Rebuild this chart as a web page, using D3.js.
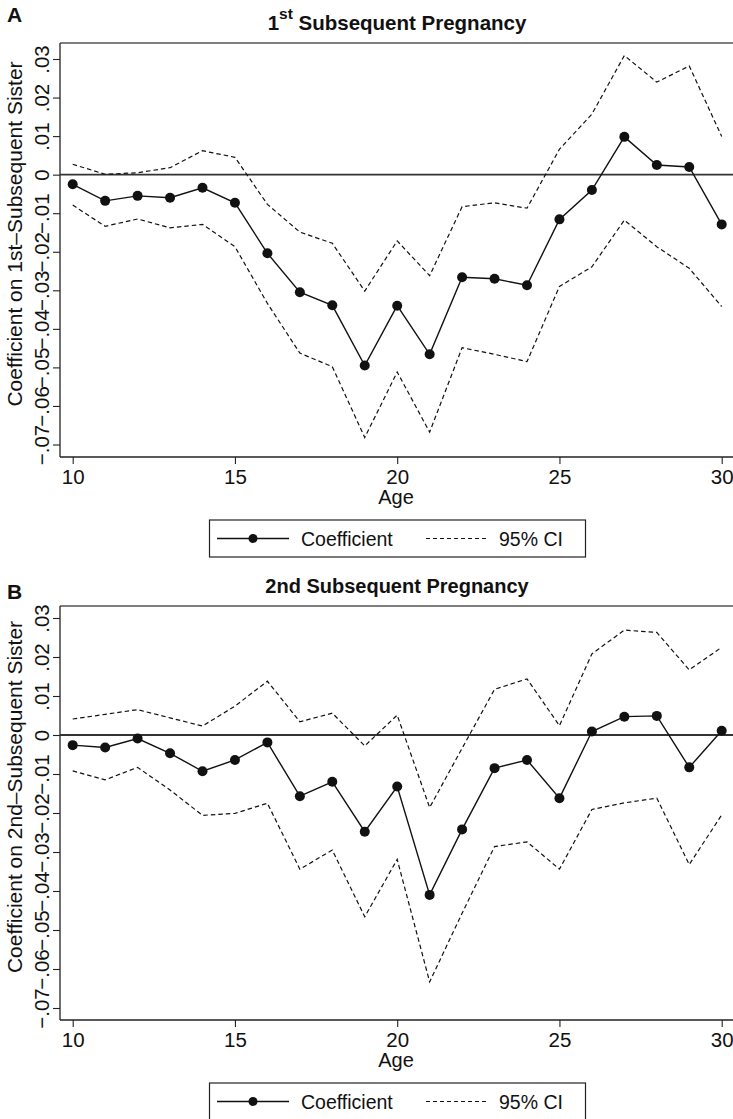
<!DOCTYPE html>
<html>
<head>
<meta charset="utf-8">
<script src="https://cdn.jsdelivr.net/npm/d3@7"></script>
<style>
  html, body { margin: 0; padding: 0; background: #fff; }
  svg { display: block; font-family: "Liberation Sans", Arial, sans-serif; }
</style>
</head>
<body>
<svg id="chart" width="733" height="1119"></svg>
<script>
// ---- Data ----
const ages = [10,11,12,13,14,15,16,17,18,19,20,21,22,23,24,25,26,27,28,29,30];

// Panel A: 1st subsequent pregnancy
const coefA  = [-0.0025,-0.0068,-0.0055,-0.0060,-0.0034,-0.0073,-0.0204,-0.0305,-0.0339,-0.0495,-0.0340,-0.0466,-0.0266,-0.0270,-0.0287,-0.0116,-0.0040,0.0098,0.0025,0.0020,-0.0129];
const upperA = [0.0027,0.0001,0.0005,0.0018,0.0062,0.0045,-0.0077,-0.0149,-0.0178,-0.0302,-0.0172,-0.0262,-0.0083,-0.0073,-0.0087,0.0066,0.0157,0.0309,0.0240,0.0282,0.0099];
const lowerA = [-0.0079,-0.0134,-0.0115,-0.0138,-0.0129,-0.0187,-0.0334,-0.0463,-0.0498,-0.0682,-0.0512,-0.0668,-0.0449,-0.0466,-0.0485,-0.0290,-0.0239,-0.0118,-0.0187,-0.0243,-0.0342];

// Panel B: 2nd subsequent pregnancy
const coefB  = [-0.0026,-0.0032,-0.0009,-0.0047,-0.0093,-0.0064,-0.0019,-0.0157,-0.0120,-0.0248,-0.0132,-0.0410,-0.0242,-0.0085,-0.0064,-0.0162,0.0009,0.0047,0.0049,-0.0083,0.0011];
const upperB = [0.0041,0.0053,0.0065,0.0044,0.0023,0.0074,0.0138,0.0034,0.0056,-0.0028,0.0051,-0.0186,-0.0034,0.0117,0.0144,0.0024,0.0208,0.0269,0.0263,0.0167,0.0225];
const lowerB = [-0.0092,-0.0115,-0.0083,-0.0141,-0.0206,-0.0201,-0.0175,-0.0344,-0.0295,-0.0466,-0.0319,-0.0633,-0.0457,-0.0286,-0.0274,-0.0344,-0.0191,-0.0174,-0.0162,-0.0332,-0.0205];

// Tick labels
const xTicks = [10,15,20,25,30];
const yTicks = [0.03,0.02,0.01,0,-0.01,-0.02,-0.03,-0.04,-0.05,-0.06,-0.07];
const yTickLabels = [".03",".02",".01","0","\u2212.01","\u2212.02","\u2212.03","\u2212.04","\u2212.05","\u2212.06","\u2212.07"];
const legendLabels = ["Coefficient", "95% CI"];

const svg = d3.select("#chart");
const FS_TICK = 20.5, FS_YT = 21, FS_AGE = 20, FS_LEG = 19.5;

function drawPanel(opt) {
  const g = svg.append("g");
  const left = 60, right = 740;
  const top = opt.top, bottom = opt.bottom;

  const x = d3.scaleLinear().domain([10, 30]).range([72.7, 721.7]);
  const y = d3.scaleLinear().domain([-0.07, 0.03]).range([opt.yMin, opt.yMax]);

  // Panel letter
  g.append("text").attr("x", 7).attr("y", opt.letterY)
    .attr("font-size", 21).attr("font-weight", "bold").attr("fill", "#111")
    .text(opt.letter);

  // Title
  const t = g.append("text").attr("x", 397).attr("y", top - 13)
    .attr("text-anchor", "middle").attr("font-size", opt.titleFs).attr("font-weight", "bold").attr("fill", "#111");
  if (opt.sup) {
    t.append("tspan").text(opt.titleA);
    t.append("tspan").attr("dy", -11).attr("font-size", 15.5).text(opt.sup);
    t.append("tspan").attr("dy", 11).text(" " + opt.titleB);
  } else {
    t.text(opt.titleA);
  }

  // Frame (top, left, bottom)
  g.append("line").attr("x1", left).attr("x2", right).attr("y1", top).attr("y2", top)
    .attr("stroke", "#555").attr("stroke-width", 1.3);
  g.append("line").attr("x1", left).attr("x2", left).attr("y1", top).attr("y2", bottom)
    .attr("stroke", "#222").attr("stroke-width", 1.3);
  g.append("line").attr("x1", left).attr("x2", right).attr("y1", bottom).attr("y2", bottom)
    .attr("stroke", "#222").attr("stroke-width", 1.3);

  // Y axis ticks
  const yAxis = d3.axisLeft(y).tickValues(yTicks).tickSize(7).tickSizeOuter(0)
    .tickFormat((d, i) => yTickLabels[i]);
  const ya = g.append("g").attr("transform", `translate(${left},0)`).call(yAxis);
  ya.select(".domain").remove();
  ya.selectAll(".tick line").attr("stroke", "#222").attr("stroke-width", 1.1);
  ya.selectAll(".tick text")
    .attr("font-size", FS_TICK).attr("fill", "#111")
    .attr("x", null).attr("dy", null)
    .attr("text-anchor", "middle")
    .attr("transform", "translate(-11.5,0) rotate(-90)")
    .attr("y", 0);

  // X axis ticks
  const xAxis = d3.axisBottom(x).tickValues(xTicks).tickSize(7).tickSizeOuter(0).tickFormat(d3.format("d"));
  const xa = g.append("g").attr("transform", `translate(0,${bottom})`).call(xAxis);
  xa.select(".domain").remove();
  xa.selectAll(".tick line").attr("stroke", "#222").attr("stroke-width", 1.1);
  xa.selectAll(".tick text").attr("font-size", FS_TICK).attr("fill", "#111").attr("y", 27).attr("dy", null);

  // Axis titles
  g.append("text").attr("x", 396).attr("y", bottom + 47).attr("text-anchor", "middle")
    .attr("font-size", FS_AGE).attr("fill", "#111").text("Age");
  g.append("text").attr("transform", `translate(21.5,${top + 191}) rotate(-90)`)
    .attr("text-anchor", "middle").attr("font-size", FS_YT).attr("fill", "#111").text(opt.yTitle);

  // Zero line
  g.append("line").attr("x1", left).attr("x2", right).attr("y1", y(0)).attr("y2", y(0))
    .attr("stroke", "#333").attr("stroke-width", 1.8);

  const line = d3.line().x(d => x(d[0])).y(d => y(d[1]));
  const zip = arr => ages.map((a, i) => [a, arr[i]]);

  [opt.upper, opt.lower].forEach(arr => {
    g.append("path").datum(zip(arr)).attr("d", line)
      .attr("fill", "none").attr("stroke", "#111").attr("stroke-width", 1.2)
      .attr("stroke-dasharray", "4.5,3");
  });
  g.append("path").datum(zip(opt.coef)).attr("d", line)
    .attr("fill", "none").attr("stroke", "#111").attr("stroke-width", 1.4);
  g.selectAll("circle.pt").data(zip(opt.coef)).join("circle").attr("class", "pt")
    .attr("cx", d => x(d[0])).attr("cy", d => y(d[1])).attr("r", 5).attr("fill", "#111");

  // Legend
  const ly = bottom + 63;
  const lg = g.append("g");
  lg.append("rect").attr("x", 209.5).attr("y", ly).attr("width", 376).attr("height", 37)
    .attr("fill", "#fff").attr("stroke", "#222").attr("stroke-width", 1.2);
  const cy = ly + 18.5;
  lg.append("line").attr("x1", 217).attr("x2", 289).attr("y1", cy).attr("y2", cy)
    .attr("stroke", "#111").attr("stroke-width", 1.4);
  lg.append("circle").attr("cx", 253).attr("cy", cy).attr("r", 4.5).attr("fill", "#111");
  lg.append("text").attr("x", 301).attr("y", cy + 7).attr("font-size", FS_LEG).attr("fill", "#111").text(legendLabels[0]);
  lg.append("line").attr("x1", 426).attr("x2", 489).attr("y1", cy).attr("y2", cy)
    .attr("stroke", "#111").attr("stroke-width", 1.2).attr("stroke-dasharray", "4,3");
  lg.append("text").attr("x", 499).attr("y", cy + 7).attr("font-size", FS_LEG).attr("fill", "#111").text(legendLabels[1]);
}

drawPanel({
  letter: "A", letterY: 22, top: 43, bottom: 457, yMin: 444.5, yMax: 59, titleFs: 20.5,
  titleA: "1", sup: "st", titleB: "Subsequent Pregnancy",
  yTitle: "Coefficient on 1st\u2013Subsequent Sister",
  coef: coefA, upper: upperA, lower: lowerA
});
drawPanel({
  letter: "B", letterY: 599, top: 606, bottom: 1020, yMin: 1008, yMax: 618, titleFs: 20,
  titleA: "2nd Subsequent Pregnancy", sup: null,
  yTitle: "Coefficient on 2nd\u2013Subsequent Sister",
  coef: coefB, upper: upperB, lower: lowerB
});
</script>
</body>
</html>
